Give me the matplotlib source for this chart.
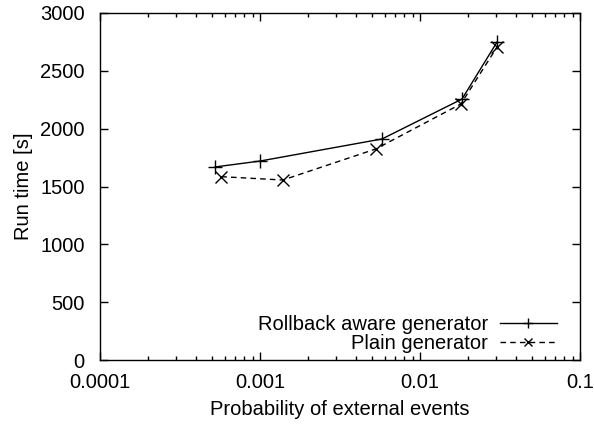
import numpy as np
import matplotlib.pyplot as plt
from matplotlib.ticker import FixedLocator, FixedFormatter, LogLocator, NullFormatter

plt.rcParams['font.family'] = ['Liberation Sans', 'DejaVu Sans']
plt.rcParams['font.size'] = 14.5

# Rollback aware generator
p_rollback = [0.000524, 0.001, 0.00579, 0.0183, 0.0303]
t_rollback = [1669, 1720, 1911, 2256, 2749]
# Plain generator
p_plain = [0.000573, 0.00139, 0.00528, 0.018, 0.0304]
t_plain = [1585, 1556, 1824, 2213, 2709]

xticks = [0.0001, 0.001, 0.01, 0.1]
xlabels = ["0.0001", "0.001", "0.01", "0.1"]
yticks = [0, 500, 1000, 1500, 2000, 2500, 3000]

fig = plt.figure(figsize=(5.94, 4.24), dpi=100)
ax = fig.add_axes([100/594, 64/424, 480/594, 347/424])

ax.plot(p_rollback, t_rollback, color="black", lw=1, marker="+", ms=10, mew=1,
        label="Rollback aware generator")
ax.plot(p_plain, t_plain, color="black", lw=1, ls=(0, (4, 3)), marker="x", ms=8, mew=1,
        label="Plain generator")

ax.set_xscale("log")
ax.set_xlim(0.0001, 0.1)
ax.set_ylim(0, 3000)
ax.xaxis.set_major_locator(FixedLocator(xticks))
ax.xaxis.set_major_formatter(FixedFormatter(xlabels))
ax.xaxis.set_minor_locator(LogLocator(base=10, subs=np.arange(2, 10)))
ax.xaxis.set_minor_formatter(NullFormatter())
ax.set_yticks(yticks)

ax.tick_params(which="both", direction="in", top=True, right=True, width=1)
ax.tick_params(which="major", length=6)
ax.tick_params(axis="y", which="major", pad=11)
ax.tick_params(axis="x", which="major", pad=9)
ax.tick_params(which="minor", length=3)
for s in ax.spines.values():
    s.set_linewidth(1)

ax.set_xlabel("Probability of external events", labelpad=6)
ax.set_ylabel("Run time [s]", labelpad=5)

ax.legend(loc="lower right", frameon=False, markerfirst=False, handlelength=2.8,
          handletextpad=0.6, borderaxespad=0.4, labelspacing=0.0, markerscale=0.7,
          bbox_to_anchor=(0.985, -0.026))

fig.savefig("out.png", dpi=100)
